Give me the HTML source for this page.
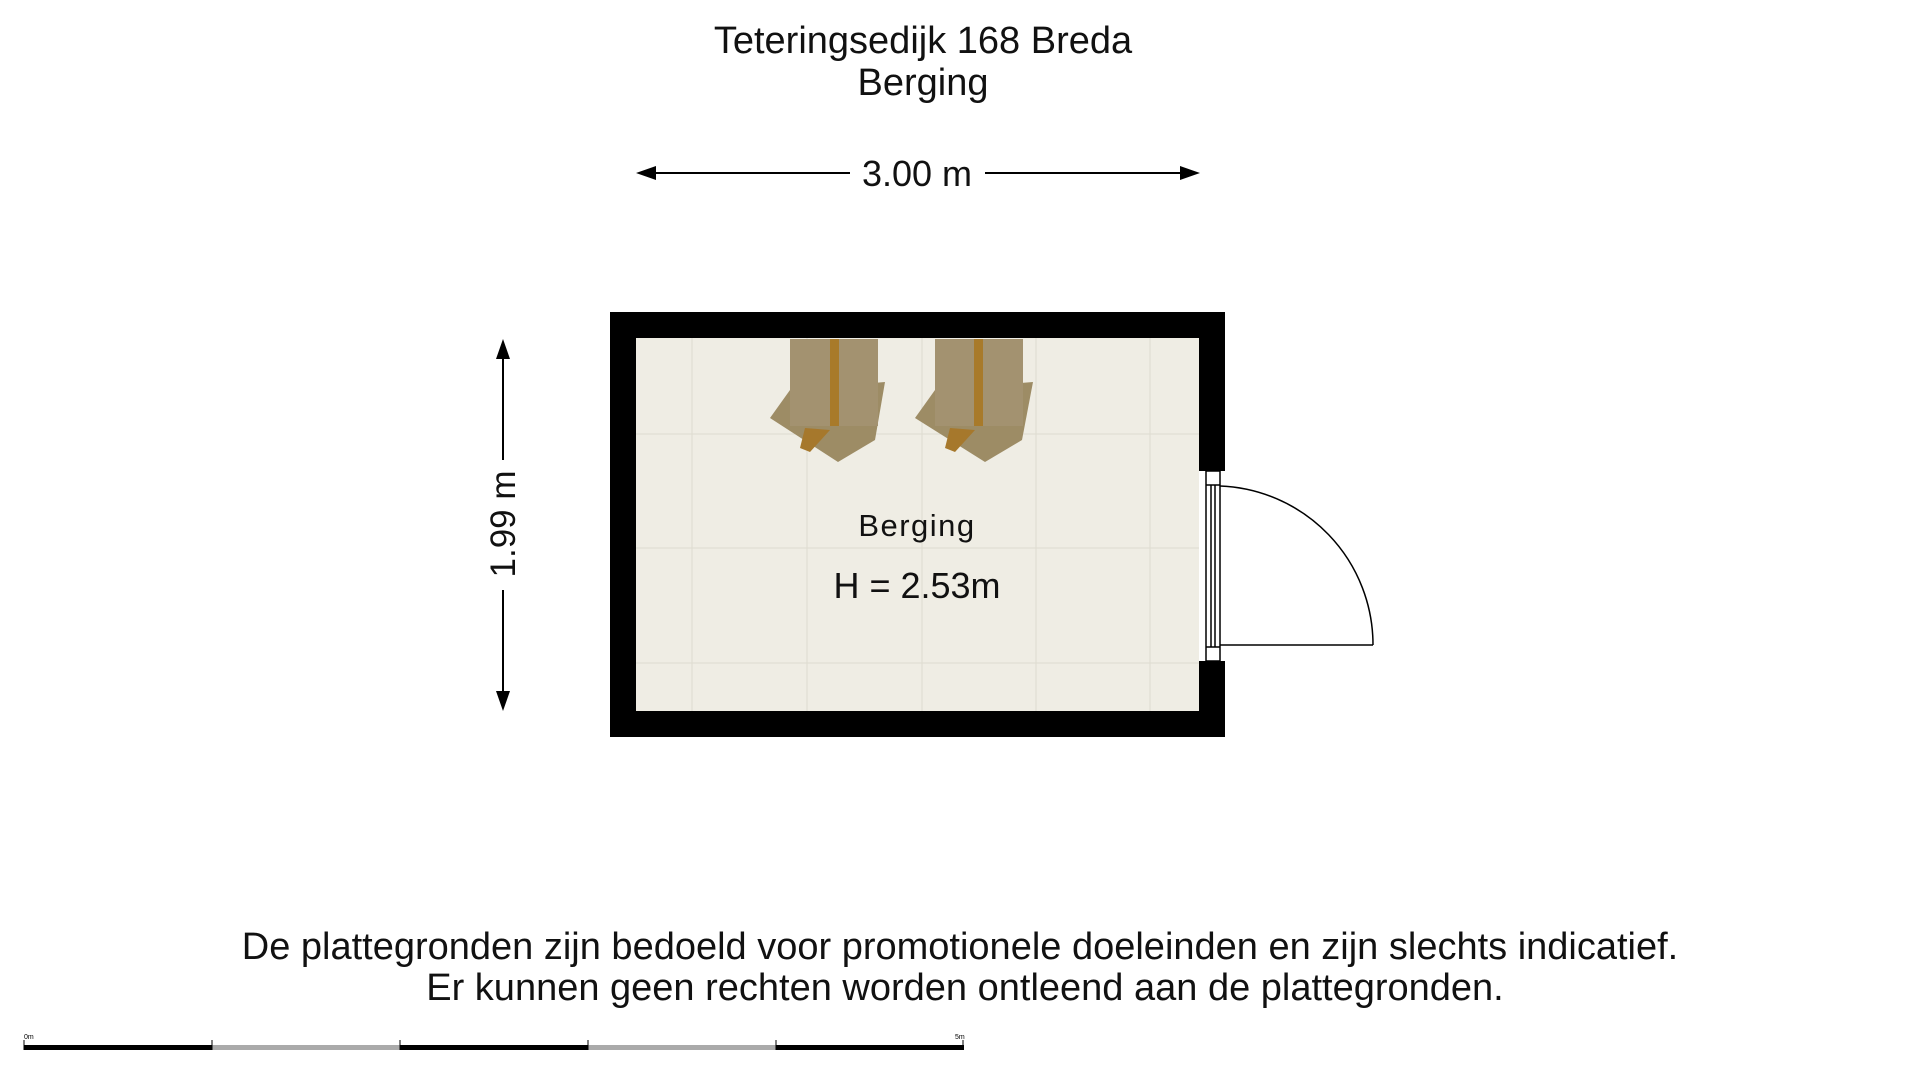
<!DOCTYPE html>
<html><head><meta charset="utf-8"><style>
html,body{margin:0;padding:0;background:#fff;}
svg{display:block;font-family:"Liberation Sans",sans-serif;}
</style></head><body>
<svg width="1920" height="1080" viewBox="0 0 1920 1080" xmlns="http://www.w3.org/2000/svg">
<text x="923" y="53" font-size="38" text-anchor="middle" fill="#111">Teteringsedijk 168 Breda</text>
<text x="923" y="95" font-size="38" text-anchor="middle" fill="#111">Berging</text>
<!-- horizontal dimension -->
<line x1="645" y1="173" x2="850" y2="173" stroke="#000" stroke-width="2"/>
<line x1="985" y1="173" x2="1190" y2="173" stroke="#000" stroke-width="2"/>
<polygon points="636,173 656,166 656,180" fill="#000"/>
<polygon points="1200,173 1180,166 1180,180" fill="#000"/>
<text x="917" y="186" font-size="36" text-anchor="middle" fill="#111">3.00 m</text>
<!-- vertical dimension -->
<line x1="503" y1="348" x2="503" y2="460" stroke="#000" stroke-width="2"/>
<line x1="503" y1="590" x2="503" y2="702" stroke="#000" stroke-width="2"/>
<polygon points="503,339 496,359 510,359" fill="#000"/>
<polygon points="503,711 496,691 510,691" fill="#000"/>
<text x="0" y="0" font-size="35" text-anchor="middle" fill="#111" transform="translate(515,524) rotate(-90)">1.99 m</text>
<!-- walls -->
<rect x="610" y="312" width="615" height="425" fill="#000"/>
<rect x="636" y="338" width="563" height="373" fill="#efede4"/>
<g stroke="#dedbd0" stroke-width="1">
<line x1="692" y1="338" x2="692" y2="711"/><line x1="807" y1="338" x2="807" y2="711"/>
<line x1="922" y1="338" x2="922" y2="711"/><line x1="1036" y1="338" x2="1036" y2="711"/>
<line x1="1150" y1="338" x2="1150" y2="711"/>
<line x1="636" y1="434" x2="1199" y2="434"/><line x1="636" y1="548" x2="1199" y2="548"/>
<line x1="636" y1="663" x2="1199" y2="663"/>
</g>
<!-- door opening -->
<rect x="1199" y="471" width="26" height="190" fill="#fff"/>
<g stroke="#000" stroke-width="1.5" fill="none">
<rect x="1206" y="471" width="14" height="190"/>
<line x1="1206" y1="485" x2="1220" y2="485"/><line x1="1206" y1="647" x2="1220" y2="647"/>
<line x1="1211" y1="485" x2="1211" y2="647"/><line x1="1215" y1="485" x2="1215" y2="647"/>
<line x1="1220" y1="645" x2="1373" y2="645"/>
<path d="M1220,486 A159,159 0 0 1 1373,645"/>
</g>
<!-- boxes -->
<g>
<polygon points="790,390 885,382 875,440 838,462 770,418" fill="#9d8c65"/>
<polygon points="805,428 830,430 810,452 800,448" fill="#a6782c"/>
<rect x="790" y="339" width="88" height="87" fill="#a39270"/>
<rect x="830" y="339" width="9" height="87" fill="#a87a2a"/>
<polygon points="935,390 1033,382 1022,440 985,462 915,418" fill="#9d8c65"/>
<polygon points="950,428 975,430 955,452 945,448" fill="#a6782c"/>
<rect x="935" y="339" width="88" height="87" fill="#a39270"/>
<rect x="974" y="339" width="9" height="87" fill="#a87a2a"/>
</g>
<text x="917" y="536" font-size="31" text-anchor="middle" fill="#111" letter-spacing="1.5">Berging</text>
<text x="917" y="598" font-size="36" text-anchor="middle" fill="#111">H = 2.53m</text>
<!-- footer -->
<text x="960" y="959" font-size="38" text-anchor="middle" fill="#111">De plattegronden zijn bedoeld voor promotionele doeleinden en zijn slechts indicatief.</text>
<text x="965" y="1000" font-size="38" text-anchor="middle" fill="#111">Er kunnen geen rechten worden ontleend aan de plattegronden.</text>
<!-- scale bar -->
<g>
<rect x="24" y="1045" width="188" height="5" fill="#000"/>
<rect x="212" y="1045" width="188" height="5" fill="#aaa"/>
<rect x="400" y="1045" width="188" height="5" fill="#000"/>
<rect x="588" y="1045" width="188" height="5" fill="#aaa"/>
<rect x="776" y="1045" width="188" height="5" fill="#000"/>
<g stroke="#000" stroke-width="1">
<line x1="24" y1="1040" x2="24" y2="1050"/><line x1="212" y1="1040" x2="212" y2="1050"/>
<line x1="400" y1="1040" x2="400" y2="1050"/><line x1="588" y1="1040" x2="588" y2="1050"/>
<line x1="776" y1="1040" x2="776" y2="1050"/><line x1="963" y1="1040" x2="963" y2="1050"/>
</g>
<text x="24" y="1039" font-size="7" fill="#000">0m</text>
<text x="955" y="1039" font-size="7" fill="#000">5m</text>
</g>
</svg>
</body></html>
